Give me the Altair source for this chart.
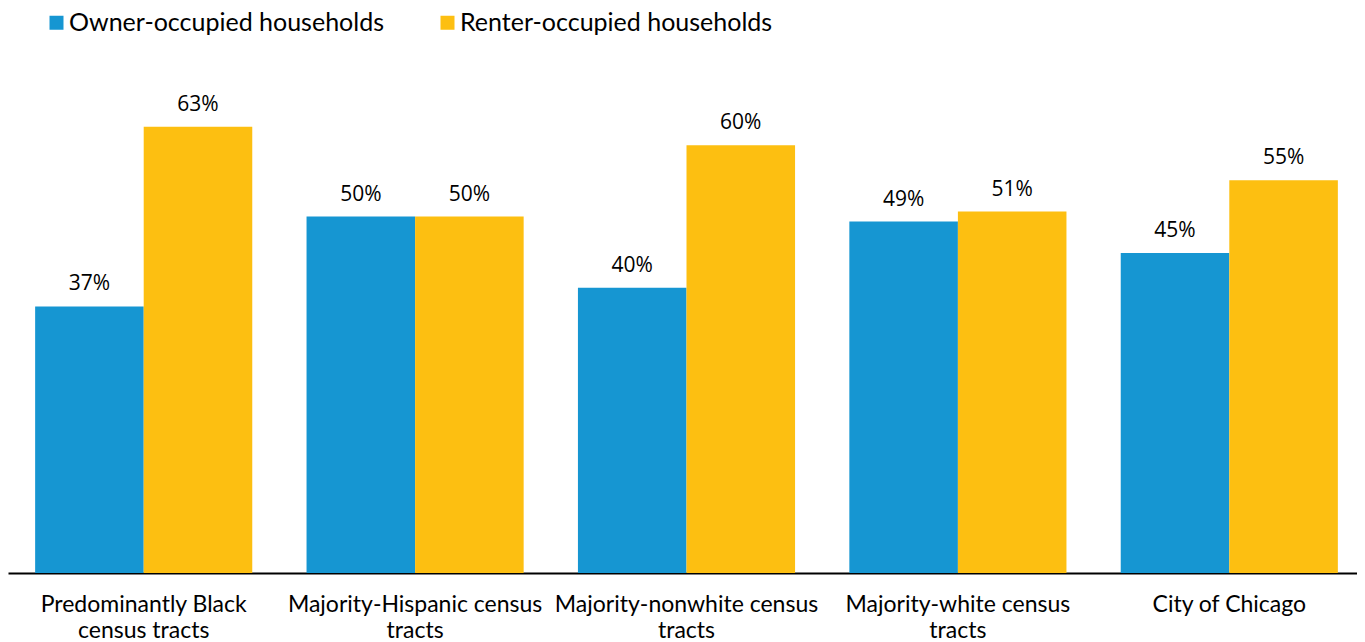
import altair as alt
import pandas as pd

categories = [
    "Predominantly Black census tracts",
    "Majority-Hispanic census tracts",
    "Majority-nonwhite census tracts",
    "Majority-white census tracts",
    "City of Chicago",
]
label_lines = {
    "Predominantly Black census tracts": ["Predominantly Black", "census tracts"],
    "Majority-Hispanic census tracts": ["Majority-Hispanic census", "tracts"],
    "Majority-nonwhite census tracts": ["Majority-nonwhite census", "tracts"],
    "Majority-white census tracts": ["Majority-white census", "tracts"],
    "City of Chicago": ["City of Chicago"],
}
series = ["Owner-occupied households", "Renter-occupied households"]
owner = [37.4, 50.0, 40.0, 49.3, 44.9]
renter = [62.6, 50.0, 60.0, 50.7, 55.1]
colors = ["#1696D2", "#FDBF11"]

rows = []
for c, o, r in zip(categories, owner, renter):
    rows.append({"category": c, "series": series[0], "value": o})
    rows.append({"category": c, "series": series[1], "value": r})
df = pd.DataFrame(rows)

expr_parts = []
for k, v in label_lines.items():
    arr = "[" + ",".join("'" + s + "'" for s in v) + "]"
    expr_parts.append(f"datum.value == '{k}' ? {arr}")
label_expr = " : ".join(expr_parts) + " : datum.value"

x = alt.X(
    "category:N",
    sort=categories,
    scale=alt.Scale(paddingInner=0.2, paddingOuter=0.1),
    axis=alt.Axis(
        title=None,
        labelAngle=0,
        labelExpr=label_expr,
        labelFont="Lato",
        labelFontSize=23,
        labelColor="#000000",
        labelPadding=20,
        labelLineHeight=26,
        ticks=False,
        domainColor="#000000",
        domainWidth=2,
        labelLimit=400,
    ),
)
xo = alt.XOffset("series:N", sort=series, scale=alt.Scale(paddingInner=0, paddingOuter=0))
y = alt.Y("value:Q", scale=alt.Scale(domain=[0, 70]), axis=None)

base = alt.Chart(df)

bars = base.mark_bar().encode(
    x=x,
    xOffset=xo,
    y=y,
    color=alt.Color(
        "series:N",
        sort=series,
        scale=alt.Scale(domain=series, range=colors),
        legend=alt.Legend(
            title=None,
            orient="none",
            legendX=36,
            legendY=-64,
            direction="horizontal",
            symbolType="square",
            symbolSize=196,
            symbolStrokeWidth=0,
            labelFont="Lato",
            labelFontSize=25,
            labelColor="#000000",
            labelOffset=0,
            columnPadding=51,
            labelLimit=500,
        ),
    ),
)

text = base.transform_calculate(
    label="format(datum.value, '.0f') + '%'"
).mark_text(
    font="Open Sans", fontSize=21, color="#000000", baseline="alphabetic", dy=-16
).encode(
    x=x,
    xOffset=xo,
    y=y,
    text="label:N",
)

chart = (
    alt.layer(bars, text)
    .properties(
        width=1357,
        height=499,
        padding={"left": 0, "right": -8, "top": 66, "bottom": 69},
        autosize=alt.AutoSizeParams(type="none"),
    )
    .configure_view(stroke=None)
)

chart.save("out.html", embed_options={"renderer": "svg", "actions": False})
